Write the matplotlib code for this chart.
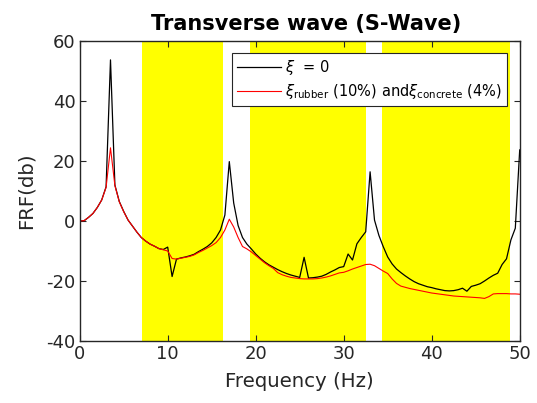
import matplotlib
matplotlib.use('Agg')
import matplotlib.pyplot as plt

plt.rcParams['font.family'] = ['DejaVu Sans']
plt.rcParams['mathtext.fontset'] = 'dejavusans'
plt.rcParams['axes.unicode_minus'] = False

# frequency grid (Hz)
freq = [i * 0.5 for i in range(101)]

# xi = 0 (undamped)
frf_undamped = [
    0.0, 0.1, 1.2, 2.5, 4.5, 7.0, 11.4, 53.7, 12.0, 6.5,
    3.2, 0.3, -1.7, -3.7, -5.5, -6.7, -7.7, -8.4, -9.2, -9.5,
    -8.7, -18.5, -12.7, -12.3, -12.0, -11.6, -11.1, -10.2, -9.4, -8.5,
    -7.3, -5.5, -3.0, 2.0, 19.8, 6.0, -1.5, -5.5, -7.7, -9.3,
    -11.0, -12.4, -13.6, -14.6, -15.4, -16.2, -16.9, -17.5, -18.0, -18.4,
    -18.8, -12.1, -19.0, -18.9, -18.7, -18.4, -17.8, -17.0, -16.3, -15.5,
    -15.2, -11.0, -13.0, -7.6, -5.5, -3.6, 16.4, 0.3, -4.8, -8.6,
    -12.0, -14.3, -16.0, -17.2, -18.3, -19.3, -20.2, -20.9, -21.4, -21.9,
    -22.2, -22.6, -22.9, -23.2, -23.3, -23.2, -22.9, -22.4, -23.4, -21.8,
    -21.4, -20.9, -20.0, -19.0, -18.1, -17.4, -14.5, -12.6, -6.3, -2.4,
    23.7,
]

# xi_rubber 10 %, xi_concrete 4 %
frf_damped = [
    0.0, 0.1, 1.2, 2.5, 4.5, 7.0, 11.2, 24.4, 11.8, 6.4,
    3.1, 0.3, -1.7, -3.7, -5.5, -6.7, -7.7, -8.4, -9.2, -9.6,
    -10.0, -12.5, -12.7, -12.4, -12.1, -11.8, -11.3, -10.5, -9.8, -9.0,
    -8.2, -7.2, -5.5, -3.0, 0.6, -2.0, -5.5, -8.5, -9.3, -10.3,
    -11.5, -12.7, -13.9, -14.9, -15.8, -17.2, -17.9, -18.4, -18.8, -19.0,
    -19.2, -19.3, -19.3, -19.3, -19.2, -19.0, -18.7, -18.3, -17.8, -17.3,
    -17.1, -16.6, -16.0, -15.5, -15.0, -14.5, -14.4, -14.9, -15.8, -16.7,
    -17.5, -19.3, -20.8, -21.7, -22.1, -22.5, -22.8, -23.1, -23.4, -23.7,
    -24.0, -24.2, -24.4, -24.6, -24.8, -25.0, -25.1, -25.2, -25.3, -25.4,
    -25.5, -25.6, -25.8, -25.2, -24.3, -24.2, -24.2, -24.2, -24.3, -24.3,
    -24.4,
]

# highlighted frequency bands (Hz)
bands = [(7.1, 16.3), (19.4, 32.5), (34.3, 48.9)]

fig = plt.figure(figsize=(5.37, 4.03), dpi=100)
ax = fig.add_axes([0.1484, 0.1538, 0.8194, 0.7445])

for lo, hi in bands:
    ax.axvspan(lo, hi, color='#ffff00', lw=0, zorder=0)

ax.plot(freq, frf_undamped, color='black', lw=0.9, label=r'$\xi$  = 0')
ax.plot(freq, frf_damped, color='red', lw=0.8,
        label=r'$\xi_{\mathrm{rubber}}$ (10%) and$\xi_{\mathrm{concrete}}$ (4%)')

ax.set_xlim(0, 50)
ax.set_ylim(-40, 60)
ax.set_xticks([0, 10, 20, 30, 40, 50])
ax.set_yticks([-40, -20, 0, 20, 40, 60])
ax.tick_params(direction='in', length=4, width=0.8, top=True, right=True,
               labelsize=13, colors='#262626', pad=3)
for s in ax.spines.values():
    s.set_color('#262626')
    s.set_linewidth(1.0)

ax.set_xlabel('Frequency (Hz)', fontsize=14.2, color='#262626', labelpad=6)
ax.set_ylabel('FRF(db)', fontsize=14.2, color='#262626', labelpad=8)
ax.set_title('Transverse wave (S-Wave)', fontsize=15, fontweight='bold',
             pad=8, x=0.515)

leg = ax.legend(loc='upper right', bbox_to_anchor=(0.972, 0.959), borderaxespad=0,
                fancybox=False, framealpha=1, edgecolor='#262626', fontsize=10.5,
                handlelength=3.0, handletextpad=0.3, labelspacing=0.3,
                borderpad=0.35)
leg.get_frame().set_linewidth(0.8)

fig.savefig('out.png', dpi=100)
